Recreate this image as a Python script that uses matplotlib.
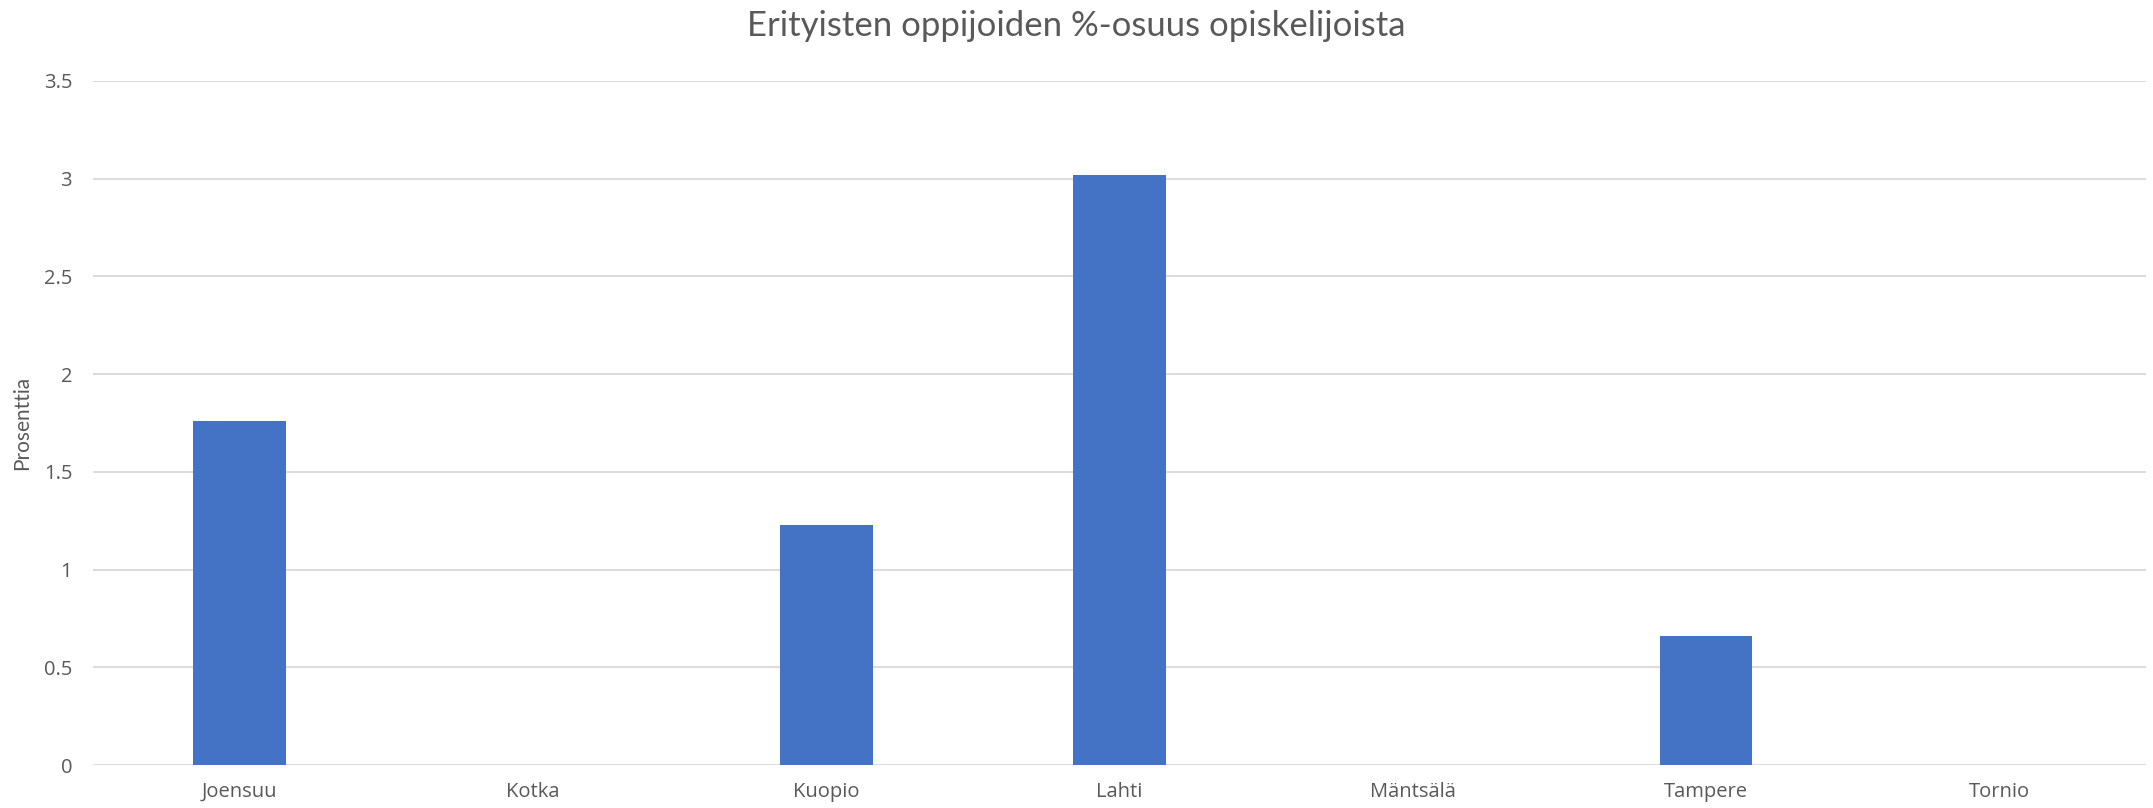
import numpy as np
import matplotlib
matplotlib.use('Agg')
from matplotlib import pyplot as plt

# data
cities = ['Joensuu', 'Kotka', 'Kuopio', 'Lahti', 'Mäntsälä', 'Tampere', 'Tornio']
share = [1.76, 0, 1.23, 3.02, 0, 0.66, 0]
yticks = [0, 0.5, 1, 1.5, 2, 2.5, 3, 3.5]
ytick_labels = ['0', '0.5', '1', '1.5', '2', '2.5', '3', '3.5']

txt = '#595959'
grid = '#d9d9d9'

fig = plt.figure(figsize=(21.53, 8.08), dpi=100)
ax = fig.add_axes([0.0432, 0.0532, 0.9535, 0.8466])

x = np.arange(len(cities))
ax.bar(x, share, width=0.317, color='#4472C4', zorder=3)

ax.set_xlim(-0.5, len(cities) - 0.5)
ax.set_ylim(0, 3.5)
ax.set_yticks(yticks)
ax.set_yticklabels(ytick_labels)
ax.set_xticks(x)
ax.set_xticklabels(cities)
for t in ax.get_xticklabels() + ax.get_yticklabels():
    t.set_family('Open Sans')
    t.set_fontsize(14.5)
    t.set_color(txt)
ax.tick_params(axis='both', length=0)
ax.tick_params(axis='y', pad=15)
ax.tick_params(axis='x', pad=12)

ax.grid(axis='y', color=grid, linewidth=1.3, zorder=0)
for s in ax.spines.values():
    s.set_visible(False)

ax.set_ylabel('Prosenttia', family='Lato', fontsize=15, color=txt, labelpad=8)
fig.suptitle('Erityisten oppijoiden %-osuus opiskelijoista', family='Lato', fontsize=25,
             color=txt, y=0.988)

fig.savefig('out.png', dpi=100, facecolor='white')
